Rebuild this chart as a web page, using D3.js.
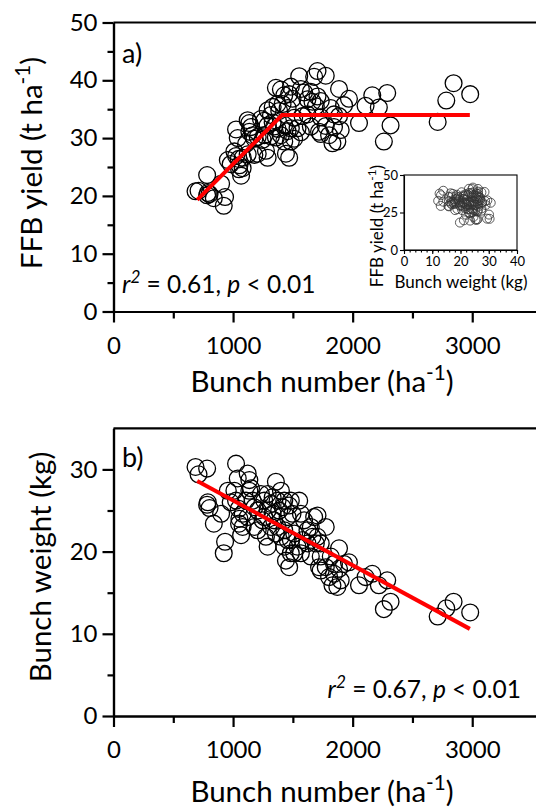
<!DOCTYPE html>
<html lang="en">
<head>
  <meta charset="UTF-8">
  <title>Bunch number, bunch weight and FFB yield</title>
  <script src="https://d3js.org/d3.v7.min.js"></script>
  <style>
    body { margin: 0; background: #fff; }
    svg { display: block; font-family: Lato, "Open Sans", sans-serif; }
    .axis path, .axis line { stroke: #000; stroke-width: 2.2px; }
    .axis text { font-size: 24px; fill: #000; font-family: Lato, sans-serif; }
    .inset .axis path, .inset .axis line { stroke-width: 1.1px; }
    .inset .axis text { font-size: 13px; }
    .title { font-size: 29.5px; }
    .dot { fill: none; stroke: #000; stroke-width: 1.3px; }
    .inset .dot { stroke: #333; stroke-width: 0.8px; }
    .fit { fill: none; stroke: #ff0000; stroke-width: 4px; }
  </style>
</head>
<body>
<svg width="536" height="808"></svg>
<script>
// per plot: bunch number (ha-1), bunch weight (kg), FFB yield (t ha-1)
const bunchNumber = [686, 711, 783, 783, 803, 789, 839, 900, 933, 922, 956, 1025, 1039, 1047, 1053, 1067, 1025, 1122, 1136, 1150,
  1164, 1122, 1178, 1206, 1247, 1275, 1289, 1261, 1317, 1358, 1372, 1331, 1344, 1400, 1414, 1372, 1400, 1428, 1442, 1469,
  1483, 1497, 1456, 1511, 1553, 1539, 1567, 1483, 1594, 1622, 1650, 1678, 1706, 1664, 1692, 1733, 1775, 1719, 1775, 1803,
  1831, 1844, 1886, 1886, 1928, 1969, 1900, 2053, 2108, 2164, 2219, 2289, 2261, 2317, 2711, 2783, 2844, 2983, 1233, 1289,
  1331, 1289, 1386, 1261, 1317, 1358, 1428, 1456, 1483, 1511, 1428, 1469, 1178, 1108, 1081, 1206, 1581, 1622, 1706, 1567,
  1733, 1817, 1844, 1872, 1733, 1650, 1011, 1136, 1050, 1080, 980];
const bunchWeight = [30.3, 29.4, 30.1, 25.7, 25.3, 26.0, 23.4, 24.6, 21.2, 19.8, 27.4, 30.7, 28.9, 25.2, 24.0, 22.0, 26.2, 29.5, 28.7, 27.7,
  26.2, 24.2, 23.0, 25.0, 23.8, 21.8, 20.6, 26.2, 25.8, 28.5, 26.2, 24.6, 23.8, 27.4, 25.4, 23.0, 21.8, 20.6, 18.9, 18.1,
  26.2, 24.6, 24.2, 22.2, 26.2, 20.6, 19.8, 19.8, 23.8, 22.6, 23.0, 24.2, 24.4, 21.8, 21.0, 19.4, 23.0, 18.1, 18.1, 16.9,
  15.9, 17.3, 17.9, 20.4, 18.5, 18.7, 16.5, 15.9, 16.9, 17.3, 15.9, 16.5, 13.0, 13.9, 12.1, 13.1, 13.9, 12.6, 27.0, 27.0,
  26.6, 25.0, 25.0, 24.2, 23.0, 22.2, 22.6, 21.4, 21.4, 19.8, 26.2, 25.6, 25.4, 26.2, 24.6, 22.6, 21.4, 21.0, 21.8, 24.6,
  21.0, 19.4, 18.5, 15.7, 17.7, 19.4, 27.4, 27.4, 23.4, 23.0, 26.0];
const ffbYield = [20.8, 20.9, 23.6, 20.1, 20.3, 20.5, 19.6, 22.1, 19.8, 18.3, 26.2, 31.5, 30.0, 26.4, 25.3, 23.5, 26.9, 33.1, 32.6, 31.9,
  30.5, 27.2, 27.1, 30.2, 29.7, 27.8, 26.6, 33.0, 34.0, 38.7, 35.9, 32.7, 32.0, 38.4, 35.9, 31.6, 30.5, 29.4, 27.3, 26.6,
  38.9, 36.8, 35.2, 33.5, 40.7, 31.7, 31.0, 29.4, 37.9, 36.7, 38.0, 40.6, 41.6, 36.3, 35.5, 33.6, 40.8, 31.1, 32.1, 30.5,
  29.1, 31.9, 33.8, 38.5, 35.7, 36.8, 31.4, 32.6, 35.6, 37.4, 35.3, 37.8, 29.4, 32.2, 32.8, 36.5, 39.5, 37.6, 33.3, 34.8,
  35.4, 32.2, 34.7, 30.5, 30.3, 30.1, 32.3, 31.2, 31.7, 29.9, 37.4, 37.6, 29.9, 29.0, 26.6, 27.3, 33.8, 34.1, 37.2, 38.5,
  36.4, 35.2, 34.1, 29.4, 30.7, 32.0, 27.7, 31.1, 24.6, 24.8, 25.5];

// fitted lines (end points and break point)
const fitAX = [700, 1410, 2980];
const fitAY = [19.3, 34.0, 34.0];
const fitBX = [700, 2980];
const fitBY = [28.6, 10.6];

const xTicks = [0, 1000, 2000, 3000];
const xMinor = [500, 1500, 2500];
const yTicksA = [0, 10, 20, 30, 40, 50];
const yMinorA = [5, 15, 25, 35, 45];
const yTicksB = [0, 10, 20, 30];
const yMinorB = [5, 15, 25];
const insetXTicks = [0, 10, 20, 30, 40];
const insetYTicks = [0, 25, 50];

const svg = d3.select("svg");
const rows = d3.range(bunchNumber.length);
const fmt = d3.format("d");

function panel(top, bottom, yMax, yTicks, yMinor, yVals, fitX, fitY) {
  const x = d3.scaleLinear().domain([0, 3550]).range([113.5, 538]);
  const y = d3.scaleLinear().domain([0, yMax]).range([bottom, top]);
  const g = svg.append("g");

  // top frame
  g.append("line")
    .attr("x1", x.range()[0]).attr("x2", x.range()[1])
    .attr("y1", y(yMax)).attr("y2", y(yMax))
    .attr("stroke", "#000").attr("stroke-width", 2.2);

  g.append("g").attr("class", "axis")
    .attr("transform", `translate(0,${y(0)})`)
    .call(d3.axisBottom(x).tickValues(xMinor).tickSize(7).tickSizeOuter(0).tickFormat(""));
  g.append("g").attr("class", "axis")
    .attr("transform", `translate(0,${y(0)})`)
    .call(d3.axisBottom(x).tickValues(xTicks).tickSize(11).tickSizeOuter(0).tickPadding(14).tickFormat(fmt));

  g.append("g").attr("class", "axis")
    .attr("transform", `translate(${x(0)},0)`)
    .call(d3.axisLeft(y).tickValues(yMinor).tickSize(6).tickSizeOuter(0).tickFormat(""));
  g.append("g").attr("class", "axis")
    .attr("transform", `translate(${x(0)},0)`)
    .call(d3.axisLeft(y).tickValues(yTicks).tickSize(11).tickSizeOuter(0).tickPadding(5).tickFormat(fmt));

  g.selectAll("circle.dot")
    .data(rows)
    .join("circle")
    .attr("class", "dot")
    .attr("cx", i => x(bunchNumber[i]))
    .attr("cy", i => y(yVals[i]))
    .attr("r", 8.4);

  g.append("path")
    .datum(d3.range(fitX.length))
    .attr("class", "fit")
    .attr("d", d3.line().x(i => x(fitX[i])).y(i => y(fitY[i])));

  return {g, x, y};
}

function supText(g, parts, attrs) {
  const t = g.append("text");
  Object.entries(attrs).forEach(([k, v]) => t.attr(k, v));
  parts.forEach(p => {
    const s = t.append("tspan").text(p.t);
    if (p.sup) s.attr("font-size", "0.7em").attr("dy", "-0.6em");
    if (p.down) s.attr("dy", p.down);
    if (p.it) s.attr("font-style", "italic");
  });
  return t;
}

// panel a
const a = panel(22.5, 311.5, 50, yTicksA, yMinorA, ffbYield, fitAX, fitAY);
a.g.append("text").attr("x", 122).attr("y", 63).attr("font-size", 27).text("a)");
supText(a.g, [{t: "r", it: true}, {t: "2", sup: true, it: true}, {t: " = 0.61, ", down: "0.42em"}, {t: "p", it: true}, {t: " < 0.01"}],
  {x: 122, y: 293, "font-size": 24.5});
supText(a.g, [{t: "Bunch number (ha"}, {t: "-1", sup: true}, {t: ")", down: "0.42em"}],
  {x: 322, y: 392, "text-anchor": "middle", class: "title"});
supText(a.g, [{t: "FFB yield (t ha"}, {t: "-1", sup: true}, {t: ")", down: "0.42em"}],
  {transform: "translate(42,163) rotate(-90)", "text-anchor": "middle", class: "title"});

// inset: bunch weight vs FFB yield
const ins = svg.append("g").attr("class", "inset");
const ix = d3.scaleLinear().domain([0, 40]).range([404, 517]);
const iy = d3.scaleLinear().domain([0, 50]).range([250, 175]);
ins.append("rect")
  .attr("x", ix(0)).attr("y", iy(50))
  .attr("width", ix(40) - ix(0)).attr("height", iy(0) - iy(50))
  .attr("fill", "#fff").attr("stroke", "#000").attr("stroke-width", 1.1);
ins.append("g").attr("class", "axis")
  .attr("transform", `translate(0,${iy(0)})`)
  .call(d3.axisBottom(ix).tickValues(d3.range(0, 41, 2)).tickSize(2.5).tickSizeOuter(0).tickFormat(""));
ins.append("g").attr("class", "axis")
  .attr("transform", `translate(0,${iy(0)})`)
  .call(d3.axisBottom(ix).tickValues(insetXTicks).tickSize(4).tickSizeOuter(0).tickPadding(2.5));
ins.append("g").attr("class", "axis")
  .attr("transform", `translate(${ix(0)},0)`)
  .call(d3.axisLeft(iy).tickValues(insetYTicks).tickSize(4).tickSizeOuter(0).tickPadding(2));
ins.selectAll("circle.dot")
  .data(rows)
  .join("circle")
  .attr("class", "dot")
  .attr("cx", i => ix(bunchWeight[i]))
  .attr("cy", i => iy(ffbYield[i]))
  .attr("r", 4.5);
ins.append("text")
  .attr("x", 461).attr("y", 288).attr("text-anchor", "middle").attr("font-size", 17)
  .text("Bunch weight (kg)");
supText(ins, [{t: "FFB yield (t ha"}, {t: "-1", sup: true}, {t: ")", down: "0.42em"}],
  {transform: "translate(383,226) rotate(-90)", "text-anchor": "middle", "font-size": 17});

// panel b
const b = panel(428.3, 716, 35, yTicksB, yMinorB, bunchWeight, fitBX, fitBY);
b.g.append("text").attr("x", 122).attr("y", 467).attr("font-size", 27).text("b)");
supText(b.g, [{t: "r", it: true}, {t: "2", sup: true, it: true}, {t: " = 0.67, ", down: "0.42em"}, {t: "p", it: true}, {t: " < 0.01"}],
  {x: 521, y: 698, "text-anchor": "end", "font-size": 24.5});
supText(b.g, [{t: "Bunch number (ha"}, {t: "-1", sup: true}, {t: ")", down: "0.42em"}],
  {x: 322, y: 802, "text-anchor": "middle", class: "title"});
b.g.append("text")
  .attr("transform", "translate(51,567) rotate(-90)")
  .attr("text-anchor", "middle").attr("class", "title")
  .text("Bunch weight (kg)");
</script>
</body>
</html>
